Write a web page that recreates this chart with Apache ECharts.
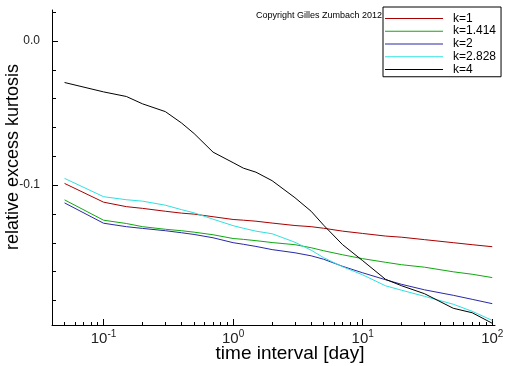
<!DOCTYPE html>
<html><head><meta charset="utf-8">
<script src="https://cdn.jsdelivr.net/npm/echarts@6/dist/echarts.min.js"></script>
<style>html,body{margin:0;padding:0;background:#fff}#c{width:512px;height:366px}</style>
</head><body><div id="c"></div>
<script>
const xValues = [0.05,0.1,0.15,0.2,0.3,0.4,0.5,0.7,1,1.2,1.5,2,3,4,5,7,10,15,20,30,50,70,100];
const k1     = [-0.0988,-0.1118,-0.1149,-0.1161,-0.1181,-0.1194,-0.1201,-0.1219,-0.1238,-0.1243,-0.1250,-0.1263,-0.1280,-0.1288,-0.1299,-0.1319,-0.1335,-0.1353,-0.1361,-0.1378,-0.1399,-0.1413,-0.1427];
const k1414  = [-0.1102,-0.1243,-0.1266,-0.1288,-0.1306,-0.1316,-0.1326,-0.1344,-0.1370,-0.1376,-0.1385,-0.1398,-0.1413,-0.1434,-0.1455,-0.1483,-0.1510,-0.1535,-0.1552,-0.1569,-0.1601,-0.1618,-0.1641];
const k2     = [-0.1123,-0.1264,-0.1288,-0.1300,-0.1316,-0.1330,-0.1342,-0.1365,-0.1399,-0.1410,-0.1425,-0.1447,-0.1469,-0.1490,-0.1514,-0.1563,-0.1608,-0.1656,-0.1688,-0.1726,-0.1764,-0.1792,-0.1822];
const k2828  = [-0.0953,-0.1080,-0.1101,-0.1111,-0.1139,-0.1170,-0.1192,-0.1236,-0.1281,-0.1299,-0.1319,-0.1337,-0.1396,-0.1451,-0.1503,-0.1566,-0.1622,-0.1698,-0.1729,-0.1771,-0.1826,-0.1875,-0.1938];
const k4     = [-0.0288,-0.0353,-0.0385,-0.0436,-0.0490,-0.0569,-0.0642,-0.0771,-0.0844,-0.0882,-0.0910,-0.0969,-0.1087,-0.1181,-0.1278,-0.1413,-0.1524,-0.1653,-0.1698,-0.1753,-0.1854,-0.1885,-0.1958];
const seriesNames = ['k=1','k=1.414','k=2','k=2.828','k=4'];
const seriesColors = ['#a80000','#10a810','#2828a8','#30e0e0','#000000'];
const xMajorTicks = [0.1,1,10,100];
const xMinorTicks = [0.05,0.06,0.07,0.08,0.09,0.2,0.3,0.4,0.5,0.6,0.7,0.8,0.9,2,3,4,5,6,7,8,9,20,30,40,50,60,70,80,90];
const yMajorTicks = [-0.1,0.0];
const yMinorTicks = [-0.18,-0.16,-0.14,-0.12,-0.08,-0.06,-0.04,-0.02,0.02];
const xName = 'time interval [day]';
const yName = 'relative excess kurtosis';
const copyright = 'Copyright Gilles Zumbach 2012';

const FONT = "'Liberation Sans', Arial, sans-serif";
const allData = [k1,k1414,k2,k2828,k4];
const chart = echarts.init(document.getElementById('c'));
const xMin = 0.04, xMax = 105, yMin = -0.197, yMax = 0.0215;
const grid = {left:52, right:17, top:10, bottom:41};
chart.setOption({
  animation:false,
  backgroundColor:'#fff',
  grid: grid,
  xAxis:[
    {type:'log', logBase:10, min:xMin, max:xMax, position:'bottom',
     axisLine:{show:true, onZero:false, lineStyle:{color:'#000', width:1}},
     axisTick:{show:true, inside:true, length:6, customValues:xMajorTicks, lineStyle:{color:'#000'}},
     axisLabel:{show:true, customValues:xMajorTicks, margin:4, color:'#222',
       formatter:function(v){ const e=Math.round(Math.log10(v)); return '{b|10}{s|'+e+'}'; },
       rich:{b:{fontSize:15, fontFamily:FONT, color:'#222', verticalAlign:'bottom', lineHeight:16},
             s:{fontSize:10, fontFamily:FONT, color:'#222', verticalAlign:'bottom', padding:[0,0,7,0]}}},
     splitLine:{show:false}},
    {type:'log', logBase:10, min:xMin, max:xMax, position:'bottom',
     axisLine:{show:false, onZero:false},
     axisTick:{show:true, inside:true, length:3, customValues:xMinorTicks, lineStyle:{color:'#000'}},
     axisLabel:{show:false}, splitLine:{show:false}}
  ],
  yAxis:[
    {type:'value', min:yMin, max:yMax, position:'left',
     axisLine:{show:true, onZero:false, lineStyle:{color:'#000', width:1}},
     axisTick:{show:true, inside:true, length:6, customValues:yMajorTicks, lineStyle:{color:'#000'}},
     axisLabel:{show:true, customValues:yMajorTicks, margin:12, color:'#222', fontSize:12, fontFamily:FONT,
       formatter:function(v){ return (Math.abs(v)<1e-9?0:v).toFixed(1); }},
     splitLine:{show:false}},
    {type:'value', min:yMin, max:yMax, position:'left',
     axisLine:{show:false, onZero:false},
     axisTick:{show:true, inside:true, length:4, customValues:yMinorTicks, lineStyle:{color:'#000'}},
     axisLabel:{show:false}, splitLine:{show:false}}
  ],
  legend:{
    orient:'vertical', left:383, top:7, padding:[5,5,1,2],
    borderColor:'#000', borderWidth:1, borderRadius:0, backgroundColor:'#fff',
    icon:'rect', itemWidth:58, itemHeight:1, itemGap:0,
    textStyle:{fontSize:12, fontFamily:FONT, color:'#000', lineHeight:12.75, padding:[0,0,0,5]},
    data:seriesNames.map(function(n,i){ return {name:n, itemStyle:{color:seriesColors[i]}}; })
  },
  graphic:[
    {type:'text', left:256, top:11, style:{text:copyright, fontSize:9, fontFamily:FONT, fill:'#000'}},
    {type:'text', x:13, y:157, rotation:Math.PI/2,
     style:{text:yName, fontSize:18, fontFamily:FONT, fill:'#000', textAlign:'center', textVerticalAlign:'middle'}},
    {type:'text', x:290, y:354, style:{text:xName, fontSize:19, fontFamily:FONT, fill:'#000', textAlign:'center', textVerticalAlign:'middle'}}
  ],
  series: seriesNames.map(function(n,i){
    return {name:n, type:'line', xAxisIndex:0, yAxisIndex:0, symbol:'none', showSymbol:false,
      color:seriesColors[i],
      lineStyle:{color:seriesColors[i], width:1}, itemStyle:{color:seriesColors[i]},
      data: xValues.map(function(x,j){ return [x, allData[i][j]]; })};
  })
});
</script></body></html>
